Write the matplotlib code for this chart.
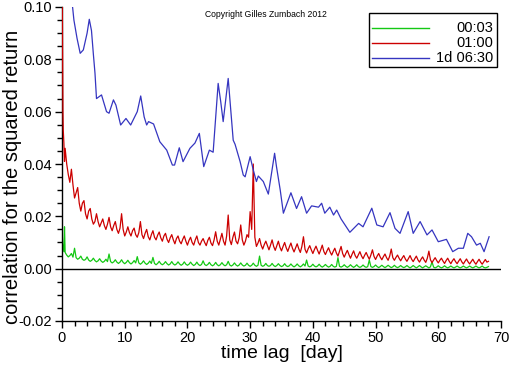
import numpy as np
import matplotlib
matplotlib.use("Agg")
import matplotlib.pyplot as plt
from matplotlib.lines import Line2D
from matplotlib.patches import Rectangle
from matplotlib.ticker import MultipleLocator

plt.rcParams['font.family'] = ['Liberation Sans', 'DejaVu Sans']

# ---------------- data ----------------
series_labels = ["00:03", "01:00", "1d 06:30"]
series_colors = ["#14c814", "#cc0000", "#3535c0"]

# green (00:03): early lags, then values at 0.5, 1.0, ... and at 0.75, 1.25, ...
green_early_x = [0.0, 0.05, 0.1, 0.2, 0.3, 0.4]
green_early_y = [0.024, 0.013, 0.0095, 0.008, 0.0065, 0.016]
green_grid_y = [
    0.0062, 0.0045, 0.0058, 0.0078, 0.0036, 0.0048, 0.0032, 0.0045, 0.0028, 0.0040,
    0.0026, 0.0038, 0.0024, 0.0036, 0.0056, 0.0022, 0.0034, 0.0020, 0.0034, 0.0019,
    0.0032, 0.0018, 0.0031, 0.0046, 0.0017, 0.0030, 0.0016, 0.0029, 0.0043, 0.0015,
    0.0028, 0.0015, 0.0027, 0.0014, 0.0027, 0.0014, 0.0026, 0.0013, 0.0026, 0.0013,
    0.0025, 0.0012, 0.0025, 0.0012, 0.0030, 0.0012, 0.0024, 0.0011, 0.0024, 0.0011,
    0.0023, 0.0011, 0.0028, 0.0010, 0.0022, 0.0010, 0.0022, 0.0010, 0.0021, 0.0009,
    0.0021, 0.0009, 0.0048, 0.0009, 0.0020, 0.0009, 0.0020, 0.0008, 0.0019, 0.0008,
    0.0019, 0.0008, 0.0018, 0.0007, 0.0018, 0.0007, 0.0018, 0.0033, 0.0007, 0.0017,
    0.0007, 0.0017, 0.0006, 0.0016, 0.0006, 0.0016, 0.0006, 0.0042, 0.0006, 0.0015,
    0.0005, 0.0015, 0.0005, 0.0015, 0.0005, 0.0014, 0.0005, 0.0033, 0.0005, 0.0014,
    0.0004, 0.0013, 0.0004, 0.0013, 0.0004, 0.0013, 0.0004, 0.0012, 0.0004, 0.0012,
    0.0003, 0.0012, 0.0003, 0.0012, 0.0003, 0.0011, 0.0003, 0.0026, 0.0003, 0.0011,
    0.0003, 0.0011, 0.0003, 0.0010, 0.0003, 0.0010, 0.0003, 0.0010, 0.0003, 0.0010,
    0.0003, 0.0010, 0.0003, 0.0010, 0.0003, 0.0008,
]
green_mid_y = [
    0.0052, 0.0050, 0.0044, 0.0042, 0.0040, 0.0036, 0.0035, 0.0033, 0.0032,
    0.0031, 0.0030, 0.0029, 0.0028, 0.0027, 0.0027, 0.0026, 0.0025, 0.0025, 0.0024,
    0.0024, 0.0023, 0.0023, 0.0022, 0.0022, 0.0022, 0.0021, 0.0021, 0.0020, 0.0020,
    0.0020, 0.0019, 0.0019, 0.0019, 0.0018, 0.0018, 0.0018, 0.0018, 0.0017, 0.0017,
    0.0017, 0.0017, 0.0016, 0.0016, 0.0016, 0.0016, 0.0016, 0.0015, 0.0015, 0.0015,
    0.0015, 0.0015, 0.0015, 0.0014, 0.0014, 0.0014, 0.0014, 0.0014, 0.0013, 0.0013,
    0.0013, 0.0013, 0.0013, 0.0013, 0.0012, 0.0012, 0.0012, 0.0012, 0.0012, 0.0012,
    0.0011, 0.0011, 0.0011, 0.0011, 0.0011, 0.0011, 0.0011, 0.0010, 0.0010, 0.0010,
    0.0010, 0.0010, 0.0010, 0.0010, 0.0010, 0.0009, 0.0009, 0.0009, 0.0009, 0.0009,
    0.0009, 0.0009, 0.0009, 0.0009, 0.0008, 0.0008, 0.0008, 0.0008, 0.0008, 0.0008,
    0.0008, 0.0008, 0.0008, 0.0008, 0.0008, 0.0007, 0.0007, 0.0007, 0.0007, 0.0007,
    0.0007, 0.0007, 0.0007, 0.0007, 0.0007, 0.0007, 0.0007, 0.0007, 0.0006, 0.0006,
    0.0006, 0.0006, 0.0006, 0.0006, 0.0006, 0.0006, 0.0006, 0.0006, 0.0006, 0.0006,
    0.0006, 0.0006, 0.0006, 0.0006, 0.0005, 0.0005,
]

# red (01:00)
red_early_x = [0.0, 0.05, 0.1, 0.15, 0.2, 0.3, 0.4]
red_early_y = [0.15, 0.10, 0.078, 0.060, 0.053, 0.048, 0.041]
red_grid_y = [
    0.046, 0.036, 0.038, 0.027, 0.031, 0.022, 0.026, 0.019, 0.023, 0.017,
    0.021, 0.016, 0.019, 0.015, 0.0196, 0.0145, 0.018, 0.0135, 0.021, 0.0125,
    0.016, 0.0125, 0.0155, 0.012, 0.018, 0.0115, 0.015, 0.011, 0.0145, 0.011,
    0.014, 0.0105, 0.0135, 0.010, 0.013, 0.0095, 0.0125, 0.0095, 0.0125, 0.009,
    0.012, 0.009, 0.0125, 0.009, 0.0115, 0.0088, 0.012, 0.0088, 0.0141, 0.009,
    0.0135, 0.009, 0.0205, 0.0092, 0.014, 0.0095, 0.0167, 0.0090, 0.0130, 0.0218,
    0.040, 0.0085, 0.0115, 0.0075, 0.0105, 0.0072, 0.0110, 0.0070, 0.0105, 0.0068,
    0.0100, 0.0066, 0.0098, 0.0064, 0.0095, 0.0062, 0.0122, 0.0060, 0.0088, 0.0058,
    0.0086, 0.0056, 0.0090, 0.0054, 0.0080, 0.0052, 0.0078, 0.0048, 0.0085, 0.0044,
    0.0070, 0.0040, 0.0068, 0.0040, 0.0065, 0.0038, 0.0062, 0.0036, 0.0072, 0.0035,
    0.0058, 0.0034, 0.0056, 0.0032, 0.0075, 0.0032, 0.0052, 0.0030, 0.0050, 0.0028,
    0.0050, 0.0027, 0.0048, 0.0025, 0.0045, 0.0024, 0.0067, 0.0023, 0.0042, 0.0022,
    0.0040, 0.0020, 0.0040, 0.0019, 0.0038, 0.0019, 0.0038, 0.0018, 0.0037, 0.0018,
    0.0036, 0.0017, 0.0036, 0.0017, 0.0035, 0.0028,
]
red_mid_y = [
    0.040, 0.033, 0.032, 0.029, 0.025, 0.025, 0.021, 0.022, 0.019,
    0.018, 0.018, 0.0175, 0.0165, 0.017, 0.016, 0.0165, 0.0150, 0.0155, 0.0150,
    0.0140, 0.0138, 0.0145, 0.0130, 0.0138, 0.0130, 0.0135, 0.0122, 0.0130, 0.0120,
    0.0128, 0.0118, 0.0125, 0.0112, 0.0118, 0.0110, 0.0115, 0.0105, 0.0112, 0.0105,
    0.0108, 0.0100, 0.0110, 0.0100, 0.0105, 0.0100, 0.0108, 0.0098, 0.0110, 0.0105,
    0.0112, 0.0105, 0.0125, 0.0110, 0.0120, 0.0105, 0.0118, 0.0110, 0.0105, 0.0120,
    0.0150, 0.0120, 0.0098, 0.0090, 0.0092, 0.0088, 0.0090, 0.0085, 0.0088, 0.0082,
    0.0085, 0.0080, 0.0083, 0.0078, 0.0080, 0.0076, 0.0085, 0.0074, 0.0076, 0.0072,
    0.0073, 0.0070, 0.0072, 0.0066, 0.0068, 0.0064, 0.0066, 0.0060, 0.0066, 0.0058,
    0.0058, 0.0054, 0.0055, 0.0050, 0.0053, 0.0049, 0.0051, 0.0048, 0.0052, 0.0047,
    0.0048, 0.0044, 0.0046, 0.0042, 0.0048, 0.0042, 0.0043, 0.0040, 0.0041, 0.0037,
    0.0039, 0.0036, 0.0038, 0.0034, 0.0036, 0.0033, 0.0040, 0.0034, 0.0033, 0.0031,
    0.0032, 0.0029, 0.0031, 0.0028, 0.0030, 0.0027, 0.0029, 0.0026, 0.0028, 0.0026,
    0.0027, 0.0025, 0.0027, 0.0025, 0.0026, 0.0025,
]

# blue (1d 06:30)
blue_x = [1.6, 1.9, 2.4, 2.9, 3.4, 4.0, 4.35, 4.7, 5.0, 5.26, 5.5, 6.3, 7.1, 7.5,
          8.2, 8.6, 9.35, 10.2, 10.95, 12.0, 12.55, 13.1, 13.5, 13.8, 14.6, 15.6,
          16.7, 17.6, 17.95, 18.7, 19.3, 20.4, 21.2, 21.9, 22.6, 23.5, 24.1, 24.9,
          25.3, 25.7, 26.5, 27.3, 27.6, 28.4, 28.9, 29.2, 30.0, 30.5, 31.0, 31.3,
          32.1, 32.9, 33.9, 34.2, 34.8, 35.3, 36.5, 37.4, 38.2, 39.0, 39.8, 40.9,
          41.4, 41.9, 42.7, 43.3, 43.8, 44.5, 45.9, 47.3, 48.0, 49.4, 50.2, 51.2,
          52.3, 53.1, 53.9, 55.2, 56.0, 57.1, 58.2, 59.0, 60.0, 61.3, 62.3, 63.2,
          64.0, 64.7, 65.3, 66.1, 66.7, 67.3, 68.1]
blue_y = [0.102, 0.095, 0.088, 0.0823, 0.0836, 0.090, 0.0953, 0.091, 0.082, 0.0747,
          0.065, 0.0664, 0.060, 0.0594, 0.0645, 0.0625, 0.0549, 0.0574, 0.0549, 0.060,
          0.066, 0.058, 0.0549, 0.0562, 0.0553, 0.0485, 0.0453, 0.0396, 0.0396, 0.0462,
          0.0409, 0.046, 0.048, 0.0517, 0.039, 0.0453, 0.0445, 0.0708, 0.064, 0.0562,
          0.0727, 0.0491, 0.0475, 0.0409, 0.0358, 0.0351, 0.0428, 0.0377, 0.0333, 0.0354,
          0.0333, 0.0285, 0.0441, 0.039, 0.030, 0.0212, 0.029, 0.023, 0.0275, 0.0212,
          0.024, 0.0235, 0.025, 0.0212, 0.0235, 0.0205, 0.0224, 0.019, 0.0139, 0.0173,
          0.016, 0.0231, 0.0167, 0.016, 0.0214, 0.0154, 0.0135, 0.0218, 0.0135, 0.018,
          0.0129, 0.0148, 0.0103, 0.0112, 0.0065, 0.0078, 0.0078, 0.0135, 0.0122, 0.009,
          0.0097, 0.0065, 0.0122]

x_ticks = [0, 10, 20, 30, 40, 50, 60, 70]
y_ticks = [-0.02, 0.00, 0.02, 0.04, 0.06, 0.08, 0.10]


def merge(early_x, early_y, grid_y, mid_y):
    gx = 0.5 * (np.arange(len(grid_y)) + 1)
    mx = 0.75 + 0.5 * np.arange(len(mid_y))
    x = np.concatenate([early_x, gx, mx])
    y = np.concatenate([early_y, grid_y, mid_y])
    order = np.argsort(x, kind='stable')
    return x[order], y[order]


# ---------------- figure ----------------
fig = plt.figure(figsize=(5.12, 3.66), dpi=100)
ax = fig.add_axes([62 / 512, 1 - 321 / 366, (501 - 62) / 512, (321 - 7) / 366])

green_x, green_y = merge(green_early_x, green_early_y, green_grid_y, green_mid_y)
red_x, red_y = merge(red_early_x, red_early_y, red_grid_y, red_mid_y)

ax.axhline(0, color='black', lw=1.0, zorder=1)
ax.plot(green_x, green_y, color=series_colors[0], lw=0.9, zorder=2)
ax.plot(red_x, red_y, color=series_colors[1], lw=0.9, zorder=3)
ax.plot(blue_x, blue_y, color=series_colors[2], lw=0.9, zorder=4)

ax.set_xlim(0, 70)
ax.set_ylim(-0.02, 0.10)
ax.set_xticks(x_ticks)
ax.set_xticklabels([str(v) for v in x_ticks])
ax.set_yticks(y_ticks)
ax.set_yticklabels([f"{v:.2f}" for v in y_ticks])
ax.xaxis.set_minor_locator(MultipleLocator(2))
ax.yaxis.set_minor_locator(MultipleLocator(0.005))
ax.tick_params(which='major', direction='out', length=5, width=1, labelsize=10.5,
               pad=2, colors='black')
ax.tick_params(which='minor', direction='out', length=3.5, width=1)

for s in ['top', 'right']:
    ax.spines[s].set_visible(False)
for s in ['left', 'bottom']:
    ax.spines[s].set_linewidth(1.0)

ax.set_xlabel("time lag  [day]", fontsize=14, labelpad=0)
ax.set_ylabel("correlation for the squared return", fontsize=14.5)
ax.yaxis.set_label_coords(-0.091, 0.459)

ax.text(0.465, 0.975, "Copyright Gilles Zumbach 2012", transform=ax.transAxes,
        fontsize=6.2, ha='center', va='center')

# legend (framed box with right-aligned labels)
ax.add_patch(Rectangle((0.6986, 0.808), 0.9916 - 0.6986, 0.980 - 0.808,
                       transform=ax.transAxes, fill=True, facecolor='white',
                       edgecolor='black', lw=1.0, zorder=10))
leg_y = [0.932, 0.884, 0.837]
for lbl, col, yy in zip(series_labels, series_colors, leg_y):
    ax.add_line(Line2D([0.706, 0.835], [yy, yy], transform=ax.transAxes,
                       color=col, lw=1.0, zorder=11))
    ax.text(0.9825, yy, lbl, transform=ax.transAxes, ha='right', va='center',
            fontsize=10.5, zorder=11)

fig.savefig("out.png", dpi=100)
